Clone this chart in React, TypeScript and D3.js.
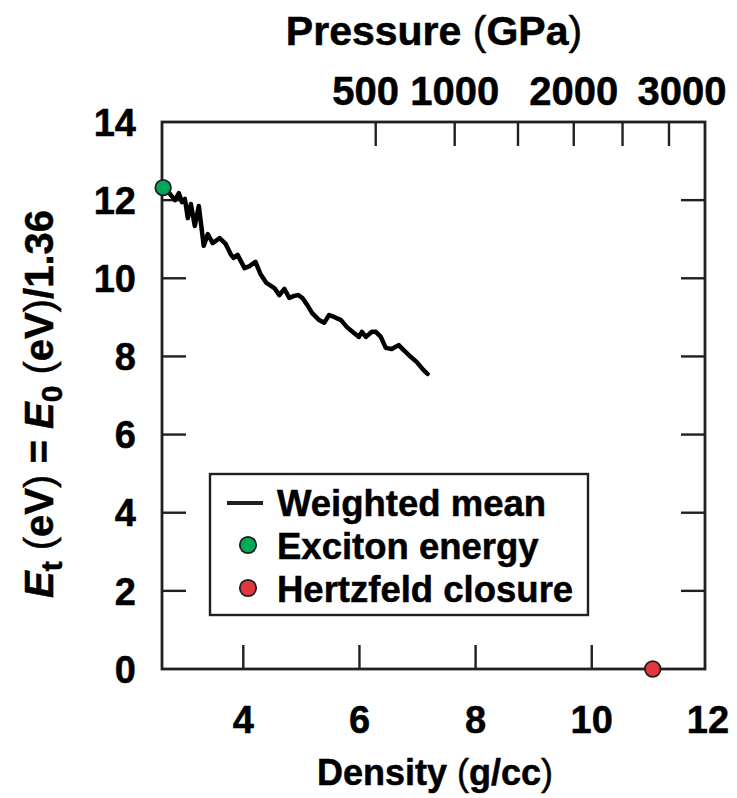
import React from "react";
import * as d3 from "d3";

// ---- data ----
const density = [
  2.669, 2.737, 2.823, 2.891, 2.943, 2.994, 3.045, 3.097, 3.165, 3.234, 3.319, 3.388, 3.473, 3.593,
  3.696, 3.782, 3.833, 3.902, 4.021, 4.107, 4.21, 4.295, 4.398, 4.535, 4.621, 4.707, 4.792, 4.878,
  4.946, 5.015, 5.1, 5.186, 5.306, 5.392, 5.477, 5.563, 5.683, 5.785, 5.905, 5.991, 6.042, 6.111,
  6.214, 6.282, 6.368, 6.453, 6.556, 6.676, 6.762, 6.882, 6.984, 7.104, 7.173,
];
const weightedMean = [
  12.26, 12.16, 12.0, 12.18, 11.95, 12.03, 11.54, 11.9, 11.34, 11.85, 10.83, 11.13, 10.9, 11.03,
  10.88, 10.62, 10.52, 10.6, 10.26, 10.31, 10.42, 10.11, 9.88, 9.75, 9.57, 9.73, 9.5, 9.55,
  9.57, 9.5, 9.32, 9.11, 8.93, 8.86, 9.06, 9.01, 8.93, 8.75, 8.6, 8.5, 8.63, 8.5,
  8.63, 8.63, 8.5, 8.22, 8.19, 8.29, 8.16, 7.99, 7.86, 7.65, 7.55,
];
const excitonDensity = [2.62];
const excitonEnergy = [12.32];
const hertzfeldDensity = [11.05];
const hertzfeldEnergy = [0];

const xTicks = [4, 6, 8, 10, 12];
const yTicks = [0, 2, 4, 6, 8, 10, 12, 14];
const pressureTicks = [500, 1000, 1500, 2000, 2500, 3000];
const pressureTickDensity = [6.28, 7.64, 8.73, 9.69, 10.53, 11.33];
const pressureLabels = [500, 1000, 2000, 3000];
const legendLabels = ["Weighted mean", "Exciton energy", "Hertzfeld closure"];

// ---- layout ----
const W = 737;
const H = 798;
const L = 162, R = 705, T = 122, B = 669;
const FONT = "'Liberation Sans', Arial, Helvetica, sans-serif";
const GREEN = "#00a859";
const RED = "#e1373f";
const TICK = 24;
const labelShift: Record<number, number> = { 500: -10, 1000: 0, 2000: 0, 3000: 13 };

export default function App() {
  const x = d3.scaleLinear().domain([2.6, 11.95]).range([L, R]);
  const y = d3.scaleLinear().domain([0, 14]).range([B, T]);
  const pressureIdx = (p: number) => pressureTicks.indexOf(p);

  const line = d3
    .line<number>()
    .x((_, i) => x(density[i]))
    .y((d) => y(d))
    .curve(d3.curveLinear);

  const innerY = yTicks.filter((t) => t > 0 && t < 14);
  const innerX = xTicks.filter((t) => x(t) > L + 1 && x(t) < R - 1);
  const textStroke = { stroke: "#000", strokeWidth: 0.5 };

  return (
    <svg
      width={W}
      height={H}
      style={{ position: "absolute", left: 0, top: 0, background: "#fff" }}
      fontFamily={FONT}
      fontWeight="bold"
    >
      {/* title */}
      <text x={434} y={45} fontSize={41} textAnchor="middle" fill="#000" {...textStroke}>
        Pressure <tspan fontWeight="normal">(</tspan>GPa<tspan fontWeight="normal">)</tspan>
      </text>

      {/* top pressure tick labels */}
      {pressureLabels.map((p) => (
        <text
          key={p}
          x={x(pressureTickDensity[pressureIdx(p)]) + labelShift[p]}
          y={105}
          fontSize={40}
          textAnchor="middle"
          fill="#000"
          {...textStroke}
        >
          {p}
        </text>
      ))}

      {/* ticks */}
      <g stroke="#231f20" strokeWidth={2.4}>
        {pressureTickDensity.map((d, i) => (
          <line key={"pt" + i} x1={x(d)} x2={x(d)} y1={T} y2={T + TICK} />
        ))}
        {innerX.map((t) => (
          <line key={"xt" + t} x1={x(t)} x2={x(t)} y1={B} y2={B - TICK} />
        ))}
        {innerY.map((t) => (
          <g key={"yt" + t}>
            <line x1={L} x2={L + TICK} y1={y(t)} y2={y(t)} />
            <line x1={R} x2={R - TICK} y1={y(t)} y2={y(t)} />
          </g>
        ))}
      </g>

      {/* frame */}
      <rect x={L} y={T} width={R - L} height={B - T} fill="none" stroke="#231f20" strokeWidth={2.8} />

      {/* y tick labels */}
      {yTicks.map((t) => (
        <text key={"yl" + t} x={136} y={y(t)} dy="0.36em" fontSize={38} textAnchor="end" fill="#000" {...textStroke}>
          {t}
        </text>
      ))}
      {/* x tick labels */}
      {xTicks.map((t) => (
        <text key={"xl" + t} x={x(t)} y={733} fontSize={38} textAnchor="middle" fill="#000" {...textStroke}>
          {t}
        </text>
      ))}

      {/* axis titles */}
      <text x={435} y={785} fontSize={36} textAnchor="middle" fill="#000" {...textStroke}>
        Density <tspan fontWeight="normal">(</tspan>g/cc<tspan fontWeight="normal">)</tspan>
      </text>
      <text
        transform={`translate(53, ${404}) rotate(-90)`}
        fontSize={40}
        textAnchor="middle"
        fill="#000"
        {...textStroke}
      >
        <tspan fontStyle="italic">E</tspan>
        <tspan fontSize={30} dy={9}>t</tspan>
        <tspan dy={-9}> </tspan>
        <tspan fontWeight="normal">(</tspan>eV<tspan fontWeight="normal">)</tspan> ={" "}
        <tspan fontStyle="italic">E</tspan>
        <tspan fontSize={30} dy={9}>0</tspan>
        <tspan dy={-9}> </tspan>
        <tspan fontWeight="normal">(</tspan>eV<tspan fontWeight="normal">)</tspan>/1.36
      </text>

      {/* weighted mean line */}
      <path
        d={line(weightedMean) || ""}
        fill="none"
        stroke="#000"
        strokeWidth={4.5}
        strokeLinejoin="round"
        strokeLinecap="round"
      />

      {/* points */}
      {excitonDensity.map((d, i) => (
        <circle key={"ex" + i} cx={x(d)} cy={y(excitonEnergy[i])} r={7.8} fill={GREEN} stroke="#231f20" strokeWidth={1.8} />
      ))}
      {hertzfeldDensity.map((d, i) => (
        <circle key={"hz" + i} cx={x(d)} cy={y(hertzfeldEnergy[i])} r={7.8} fill={RED} stroke="#231f20" strokeWidth={1.8} />
      ))}

      {/* legend */}
      <g>
        <rect x={210} y={474} width={378} height={141} fill="#fff" stroke="#231f20" strokeWidth={2.4} />
        <line x1={227} x2={263} y1={503} y2={503} stroke="#231f20" strokeWidth={4} />
        <circle cx={248} cy={545} r={8.2} fill={GREEN} stroke="#231f20" strokeWidth={1.8} />
        <circle cx={248} cy={588} r={8.2} fill={RED} stroke="#231f20" strokeWidth={1.8} />
        {legendLabels.map((s, i) => (
          <text key={s} x={277} y={516 + i * 43} fontSize={36.5} fill="#000" {...textStroke}>
            {s}
          </text>
        ))}
      </g>
    </svg>
  );
}
